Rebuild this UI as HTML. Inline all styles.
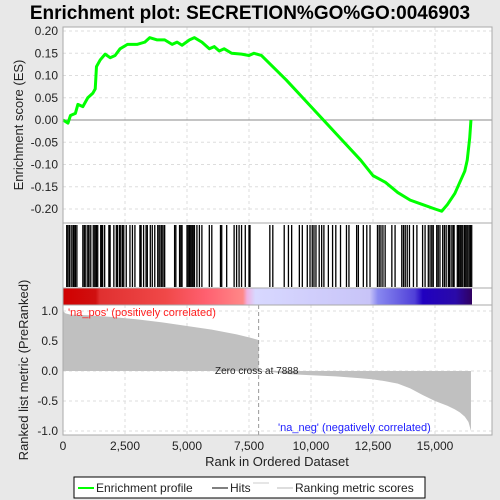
<!DOCTYPE html>
<html><head><meta charset="utf-8"><style>
body{margin:0;background:#e8e8e8;font-family:"Liberation Sans",sans-serif}
svg{display:block}
</style></head><body>
<svg width="500" height="500" xmlns="http://www.w3.org/2000/svg" id="chart">
<defs>
<linearGradient id="cbar" x1="0" x2="1" y1="0" y2="0">
<stop offset="0" stop-color="#d00000"/><stop offset="0.08" stop-color="#d01010"/>
<stop offset="0.09" stop-color="#e03030"/><stop offset="0.25" stop-color="#f04848"/>
<stop offset="0.35" stop-color="#ff6070"/><stop offset="0.44" stop-color="#ff8888"/>
<stop offset="0.45" stop-color="#f0b0e0"/><stop offset="0.47" stop-color="#d8d8ff"/>
<stop offset="0.75" stop-color="#c8c4f8"/><stop offset="0.77" stop-color="#8888f0"/>
<stop offset="0.86" stop-color="#5040d8"/><stop offset="0.88" stop-color="#2000c0"/>
<stop offset="0.96" stop-color="#2a0aa8"/><stop offset="1" stop-color="#300060"/>
</linearGradient>
</defs>
<text x="250" y="19" text-anchor="middle" font-size="19" font-weight="bold" fill="#000">Enrichment plot: SECRETION%GO%GO:0046903</text>
<rect x="63" y="27" width="429" height="408" fill="#fff"/>
<g id="grid"></g>
<g id="es"></g>
<g id="hits"></g>
<rect x="63" y="288" width="409" height="17" fill="url(#cbar)"/>
<g id="metric"></g>
<rect x="63" y="27" width="429" height="196" fill="none" stroke="#aaa"/>
<rect x="63" y="223" width="429" height="65" fill="none" stroke="#aaa"/>
<rect x="63" y="288" width="429" height="17" fill="none" stroke="#aaa"/>
<rect x="63" y="305" width="429" height="130" fill="none" stroke="#aaa"/>
<g id="axes" font-size="12" fill="#222"></g>
<text x="68" y="316" font-size="11" fill="#ff2020">'na_pos' (positively correlated)</text>
<text x="278" y="431" font-size="11" fill="#2020ff">'na_neg' (negatively correlated)</text>
<text x="215" y="374" font-size="10" fill="#222">Zero cross at 7888</text>
<text x="277" y="466" text-anchor="middle" font-size="13" fill="#222">Rank in Ordered Dataset</text>
<text transform="translate(23,125) rotate(-90)" text-anchor="middle" font-size="13" fill="#222">Enrichment score (ES)</text>
<text transform="translate(28,370) rotate(-90)" text-anchor="middle" font-size="13" fill="#222">Ranked list metric (PreRanked)</text>
<g>
<rect x="74" y="477" width="351" height="21" fill="#fff" stroke="#000"/>
<line x1="78" y1="488" x2="94" y2="488" stroke="#00ff00" stroke-width="2"/>
<text x="96" y="492" font-size="12" fill="#222">Enrichment profile</text>
<line x1="212" y1="488" x2="228" y2="488" stroke="#000"/>
<text x="230" y="492" font-size="12" fill="#222">Hits</text>
<line x1="253" y1="483" x2="269" y2="483" stroke="#ccc"/>
<line x1="277" y1="488" x2="293" y2="488" stroke="#bbb"/>
<text x="295" y="492" font-size="12" fill="#222">Ranking metric scores</text>
</g>
</svg>
<script>
const esRanks=[0,200,300,500,600,800,1000,1200,1300,1350,1500,1700,1900,2100,2300,2600,3000,3300,3500,3800,4100,4400,4600,4800,5100,5300,5600,5900,6100,6300,6500,6800,7200,7500,7700,8000,9000,10000,11000,12000,12500,13000,13500,14000,14500,15000,15270,15500,15800,16000,16200,16300,16400,16450];
const esValues=[0,-0.007,0.01,0.015,0.035,0.03,0.05,0.06,0.07,0.12,0.135,0.148,0.14,0.145,0.16,0.17,0.17,0.175,0.185,0.18,0.18,0.17,0.175,0.168,0.18,0.185,0.175,0.16,0.165,0.155,0.16,0.15,0.148,0.145,0.15,0.145,0.09,0.03,-0.03,-0.09,-0.125,-0.14,-0.163,-0.18,-0.19,-0.2,-0.205,-0.19,-0.165,-0.14,-0.115,-0.09,-0.04,0];
const hitRanks=[150,200,260,330,400,450,500,560,800,860,920,1000,1050,1120,1220,1280,1300,1350,1400,1520,1560,1600,1680,1850,1900,2050,2150,2200,2280,2330,2400,2450,2550,2700,2800,2900,3100,3150,3250,3350,3400,3520,3600,3700,3820,3880,3950,4000,4070,4100,4500,4550,4700,4750,4800,5000,5050,5100,5150,5200,5250,5300,5400,5500,5600,5900,6000,6350,6400,6600,6900,7000,7100,7200,7350,7500,7540,8340,8460,8920,9090,9220,9530,9650,9850,9960,10050,10120,10200,10330,10430,10520,10700,10870,11000,11190,11430,11530,11840,11910,12110,12250,12380,12680,12750,12820,12900,12990,13260,13390,13660,13730,13800,13880,13970,14130,14270,14500,14600,14730,14800,14870,14930,15070,15130,15200,15310,15380,15450,15540,15580,15650,15720,15770,15900,15950,16000,16050,16100,16170,16210,16260,16320,16380,16430,16480];
const metricRanks=[0,100,300,1000,2000,3000,4000,5000,6000,6500,7000,7500,7850,7888,7889,8500,9000,10000,11000,12000,12500,13000,13500,14000,14500,15000,15500,15800,16000,16200,16350,16450];
const metricValues=[1.0,0.96,0.94,0.93,0.9,0.86,0.81,0.75,0.69,0.65,0.61,0.56,0.52,0.5,0,-0.02,-0.05,-0.07,-0.09,-0.12,-0.14,-0.17,-0.21,-0.29,-0.4,-0.5,-0.58,-0.64,-0.69,-0.76,-0.85,-1.0];
const esTicks=[0.20,0.15,0.10,0.05,0.00,-0.05,-0.10,-0.15,-0.20];
const metricTicks=[1.0,0.5,0.0,-0.5,-1.0];
const xTicks=[0,2500,5000,7500,10000,12500,15000];
const xTickLabels=["0","2,500","5,000","7,500","10,000","12,500","15,000"];
const NS="http://www.w3.org/2000/svg";
const X=r=>63+r*0.0248;
const YE=v=>120-v*445;
const YM=v=>371-v*60;
function mk(tag,attrs,parent){const e=document.createElementNS(NS,tag);for(const k in attrs)e.setAttribute(k,attrs[k]);document.getElementById(parent).appendChild(e);return e;}
xTicks.forEach(t=>{if(t===0)return;
 let g=mk('line',{x1:X(t),x2:X(t),y1:27,y2:223,stroke:'#ddd','stroke-dasharray':'3,3'},'grid');
 
 let g2=mk('line',{x1:X(t),x2:X(t),y1:305,y2:435,stroke:'#ddd','stroke-dasharray':'3,3'},'grid');
 });
esTicks.forEach(t=>{let g=mk('line',{x1:63,x2:492,y1:YE(t),y2:YE(t),stroke:t===0?'#888':'#ddd','stroke-dasharray':t===0?'':'3,3'},'grid');
 
 let tx=mk('text',{x:58,y:YE(t)+4,'text-anchor':'end'},'axes');tx.textContent=t.toFixed(2);
 });
metricTicks.forEach(t=>{let g=mk('line',{x1:63,x2:492,y1:YM(t),y2:YM(t),stroke:'#ddd','stroke-dasharray':'3,3'},'grid');
 
 let tx=mk('text',{x:58,y:YM(t)+4,'text-anchor':'end'},'axes');tx.textContent=t.toFixed(1);
 });
xTicks.forEach((t,i)=>{let tx=mk('text',{x:X(t),y:450,'text-anchor':'middle'},'axes');tx.textContent=xTickLabels[i];
 });
let d='M'+X(0)+','+YM(0);
for(let i=0;i<metricRanks.length;i++){d+=' L'+X(metricRanks[i])+','+YM(metricValues[i]);}
d+=' L'+X(metricRanks[metricRanks.length-1])+','+YM(0)+'Z';
let ma=mk('path',{d:d,fill:'#c0c0c0'},'metric');

let zl=mk('line',{x1:X(7888),x2:X(7888),y1:305,y2:435,stroke:'#999','stroke-dasharray':'4,3'},'metric');

hitRanks.forEach(r=>{let h=mk('line',{x1:X(r),x2:X(r),y1:225,y2:287,stroke:'#000','stroke-width':1.3},'hits');
 });
let p=esRanks.map((r,i)=>X(r)+','+YE(esValues[i])).join(' ');
let pl=mk('polyline',{points:p,fill:'none',stroke:'#00ff00','stroke-width':3,'stroke-linejoin':'round'},'es');

</script>
</body></html>
